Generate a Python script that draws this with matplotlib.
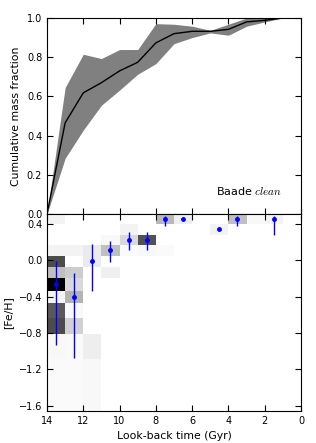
import numpy as np
import matplotlib

matplotlib.use("Agg")
import matplotlib.pyplot as plt

# --- верхняя панель: кумулятивная доля массы ---
age = [14, 13, 12, 11, 10, 9, 8, 7, 6, 5, 4, 3, 2, 1, 0]
cmf_med = [0.0, 0.465, 0.618, 0.67, 0.73, 0.774, 0.873, 0.92, 0.932, 0.932,
           0.942, 0.98, 0.988, 1.0, 1.0]
cmf_hi = [0.0, 0.645, 0.815, 0.793, 0.839, 0.839, 0.971, 0.968, 0.958, 0.937,
          0.968, 1.0, 1.0, 1.0, 1.0]
cmf_lo = [0.0, 0.284, 0.428, 0.555, 0.632, 0.713, 0.767, 0.869, 0.9, 0.924,
          0.912, 0.958, 0.98, 1.0, 1.0]

# --- нижняя панель: гистограмма возраст-[Fe/H] ---
age_edges = [14, 13, 12, 11, 10, 9, 8, 7, 6, 5, 4, 3, 2, 1]
feh_edges = [0.51, 0.4, 0.283, 0.165, 0.043, -0.078, -0.2, -0.333, -0.474,
             -0.634, -0.81, -1.087, -1.66]
# строки = бины [Fe/H] сверху вниз, столбцы = бины возраста (14 -> 1 Гyr)
hist = [
    [0.05, 0, 0, 0, 0, 0, 0.28, 0.07, 0, 0, 0.25, 0.03, 0.05],
    [0, 0, 0, 0, 0.05, 0, 0, 0, 0, 0.05, 0, 0, 0],
    [0, 0, 0, 0.03, 0.15, 0.68, 0, 0, 0, 0, 0, 0, 0],
    [0.05, 0.05, 0.08, 0.25, 0.02, 0.03, 0.02, 0, 0, 0, 0, 0, 0],
    [0.7, 0, 0.08, 0, 0, 0, 0, 0, 0, 0, 0, 0, 0],
    [0.25, 0.2, 0, 0.06, 0, 0, 0, 0, 0, 0, 0, 0, 0],
    [1.0, 0.15, 0, 0, 0, 0, 0, 0, 0, 0, 0, 0, 0],
    [0.05, 0.3, 0, 0, 0, 0, 0, 0, 0, 0, 0, 0, 0],
    [0.65, 0.03, 0, 0, 0, 0, 0, 0, 0, 0, 0, 0, 0],
    [0.7, 0.18, 0, 0, 0, 0, 0, 0, 0, 0, 0, 0, 0],
    [0.03, 0.02, 0.07, 0, 0, 0, 0, 0, 0, 0, 0, 0, 0],
    [0.02, 0.02, 0.03, 0, 0, 0, 0, 0, 0, 0, 0, 0, 0],
]

# средняя металличность по бинам возраста с разбросом
amr_t = [13.5, 12.5, 11.5, 10.5, 9.5, 8.5, 7.5, 6.5, 4.5, 3.5, 1.5]
amr_feh = [-0.26, -0.40, -0.012, 0.11, 0.227, 0.227, 0.46, 0.46, 0.345, 0.46, 0.46]
amr_up = [-0.005, -0.141, 0.183, 0.217, 0.308, 0.308, 0.485, 0.46, 0.345, 0.485, 0.485]
amr_lo = [-0.937, -1.08, -0.333, -0.02, 0.117, 0.117, 0.375, 0.46, 0.345, 0.375, 0.283]

plt.rcParams.update({
    "xtick.direction": "in",
    "ytick.direction": "in",
    "xtick.top": True,
    "ytick.right": True,
    "xtick.major.size": 4,
    "ytick.major.size": 4,
    "xtick.labelsize": 7,
    "ytick.labelsize": 7,
    "axes.labelsize": 7.8,
})

fig = plt.figure(figsize=(3.16, 4.43), dpi=100)
ax1 = fig.add_axes([0.1487, 0.5169, 0.8038, 0.4425])
ax2 = fig.add_axes([0.1487, 0.0722, 0.8038, 0.4447], sharex=ax1)

ax1.fill_between(age, cmf_lo, cmf_hi, color="0.5", lw=0)
ax1.plot(age, cmf_med, color="k", lw=1)
ax1.set_xlim(14, 0)
ax1.set_ylim(0, 1)
ax1.set_yticks([0.0, 0.2, 0.4, 0.6, 0.8, 1.0])
ax1.set_ylabel("Cumulative mass fraction")
ax1.tick_params(labelbottom=False)
ax1.text(0.925, 0.097, "Baade $clean$", transform=ax1.transAxes,
         ha="right", va="baseline", fontsize=8, math_fontfamily="cm")

h = np.ma.masked_equal(np.array(hist), 0)
ax2.pcolormesh(age_edges, feh_edges, h, cmap="gray_r", vmin=0, vmax=1)
yerr = [np.array(amr_feh) - np.array(amr_lo), np.array(amr_up) - np.array(amr_feh)]
ax2.errorbar(amr_t, amr_feh, yerr=yerr, fmt="o", color="b", ms=2.5,
             mec="b", elinewidth=1, capsize=0)
ax2.set_xlim(14, 0)
ax2.set_ylim(-1.66, 0.51)
ax2.set_xticks([14, 12, 10, 8, 6, 4, 2, 0])
ax2.set_yticks([0.4, 0.0, -0.4, -0.8, -1.2, -1.6])
ax2.set_yticklabels(["0.4", "0.0", "\u22120.4", "\u22120.8", "\u22121.2", "\u22121.6"])
ax2.set_xlabel("Look-back time (Gyr)")
ax2.set_ylabel("[Fe/H]")

fig.savefig("out.png", dpi=100)
